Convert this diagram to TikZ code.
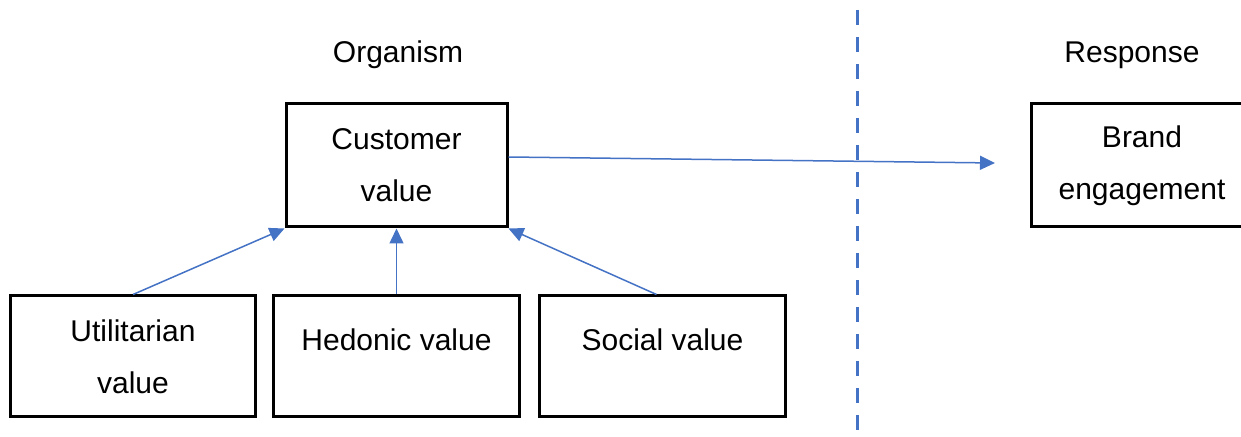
\documentclass[tikz,border=0pt]{standalone}
\usepackage{fontspec}
\setmainfont{Liberation Sans}
\usetikzlibrary{arrows.meta}
\definecolor{wordblue}{RGB}{68,114,196}
\tikzset{
	topbox/.style={draw, line width=1.5pt, minimum width=110.5pt, minimum height=61.5pt, align=center, inner sep=0pt},
	valbox/.style={draw, line width=1.5pt, minimum width=122.75pt, minimum height=60.5pt, align=center, inner sep=0pt},
	flow/.style={line width=0.75pt, color=wordblue, -{Triangle[length=7.5pt, width=7pt]}}
}

\begin{document}
\begin{tikzpicture}[x=0.5pt, y=-0.5pt, font=\fontsize{15pt}{26pt}\selectfont]
		%%%%% START %%%%%
		\useasboundingbox (0, 0) rectangle (1241, 437);
		
		\node (organism) at (398, 55) {Organism};
		\node (response) at (1132, 55) {Response};
		
		\node[topbox] (cust) at (396.5, 165.5) {Customer\\value};
		\node[topbox] (brand) at (1142, 165.5) {Brand\\engagement};
		
		\node[valbox] (util) at (133, 356.5) {Utilitarian\\value};
		\node[valbox, text depth=16.5pt] (hed) at (396.5, 356.5) {Hedonic value};
		\node[valbox, text depth=16.5pt] (soc) at (662.5, 356.5) {Social value};
		
		\draw[line width=1.5pt, color=wordblue, dash pattern=on 7.5pt off 6pt] (857, 10) -- (857, 437);
		
		\draw[flow] (util.north) -- (cust.south west);
		\draw[flow] (hed.north) -- (cust.south);
		\draw[flow] ([xshift=-3pt]soc.north) -- (cust.south east);
		\draw[flow] ([yshift=4.25pt]cust.east) -- ([xshift=-17.5pt, yshift=1.25pt]brand.west);
		
		%%%%% END %%%%%
	\end{tikzpicture}
\end{document}
